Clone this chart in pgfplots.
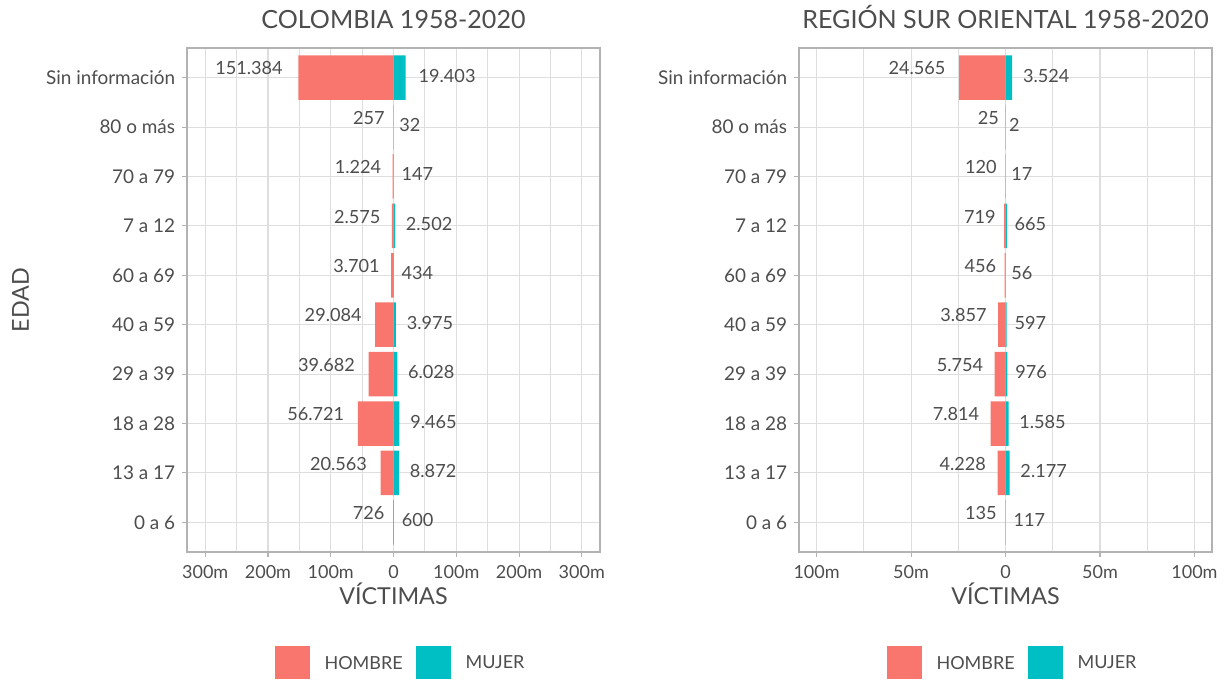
\documentclass[border=0pt]{standalone}
\usepackage{pgfplots}
\pgfplotsset{compat=1.18}
\usepackage{pgfplotstable}
\usepackage{fontspec}
\setmainfont{Lato}
\definecolor{hombre}{HTML}{F8766D}
\definecolor{mujer}{HTML}{00BFC4}
\definecolor{txt}{HTML}{4D4D4D}
\definecolor{gridc}{HTML}{DEDEDE}
\definecolor{framec}{HTML}{B3B3B3}

% pos: 0 = "0 a 6" ... 9 = "Sin informacion"
\pgfplotstableread{
pos h m
0 726 600
1 20563 8872
2 56721 9465
3 39682 6028
4 29084 3975
5 3701 434
6 2575 2502
7 1224 147
8 257 32
9 151384 19403
}\colombia

\pgfplotstableread{
pos h m
0 135 117
1 4228 2177
2 7814 1585
3 5754 976
4 3857 597
5 456 56
6 719 665
7 120 17
8 25 2
9 24565 3524
}\region

\newcommand{\ticksize}{\fontsize{13.5}{15}\selectfont}
\newcommand{\yticksize}{\fontsize{14.2}{16}\selectfont}
\newcommand{\labsize}{\fontsize{13.6}{15}\selectfont}
\newcommand{\titsize}{\fontsize{18.8}{21}\selectfont}
\newcommand{\axtsize}{\fontsize{17.5}{20}\selectfont}

\pgfplotsset{
  piramide/.style={
    scale only axis, width=309.75pt, height=378pt,
    xbar, bar width=0.9, bar shift=0pt,
    scaled x ticks=false,
    ymin=-0.6, ymax=9.6, ytick={0,...,9},
    yticklabels={0 a 6,13 a 17,18 a 28,29 a 39,40 a 59,60 a 69,7 a 12,70 a 79,80 o más,Sin información},
    xmajorgrids, xminorgrids, ymajorgrids,
    major grid style={gridc, line width=0.8pt},
    minor grid style={gridc, line width=0.6pt},
    axis line style={framec, line width=1.1pt},
    tick style={framec, line width=0.8pt},
    tick align=outside, major tick length=3.4pt, minor tick length=0pt,
    tick pos=left,
    xticklabel style={font=\ticksize, text=txt, yshift=-3pt},
    yticklabel style={font=\yticksize, text=txt, xshift=-2pt},
    title style={at={(0.5,1)}, anchor=base, yshift=8.25pt, font=\titsize, text=txt},
    xlabel style={at={(axis description cs:0.5,0)}, anchor=base, yshift=-39pt, font=\axtsize, text=txt},
    legend style={at={(0.5,-0.1865)}, anchor=north, xshift=4.5pt, draw=none, fill=none,
      inner sep=0pt, outer sep=0pt, font=\ticksize, text=txt,
      nodes={inner sep=0pt},
      /tikz/every odd column/.append style={column sep=11.25pt},
      /tikz/every even column/.append style={column sep=9.75pt}},
    legend columns=2,
  },
  hlab/.style={
    nodes near coords={\makebox[1.2\width][l]{\pgfmathprintnumber[fixed,precision=0,1000 sep={.},assume math mode=true]{\pgfplotspointmeta}}},
    every node near coord/.append style={anchor=east, inner sep=0pt, xshift=-1.5pt, yshift=7pt, font=\labsize, text=txt},
  },
  mlab/.style={
    nodes near coords={\makebox[1.2\width][r]{\pgfmathprintnumber[fixed,precision=0,1000 sep={.},assume math mode=true]{\pgfplotspointmeta}}},
    every node near coord/.append style={anchor=west, inner sep=0pt, xshift=1pt, yshift=1.5pt, font=\labsize, text=txt},
  },
}

\begin{document}
\begin{tikzpicture}
\path[use as bounding box] (0pt,0pt) rectangle (921pt,509.25pt);

\begin{axis}[piramide, at={(140.25pt,95.25pt)}, anchor=south west,
  xmin=-329000, xmax=329000,
  xtick={-300000,-200000,-100000,0,100000,200000,300000},
  xticklabels={300m,200m,100m,0,100m,200m,300m},
  minor xtick={-250000,-150000,-50000,50000,150000,250000},
  title={COLOMBIA 1958-2020}, xlabel={VÍCTIMAS}, ylabel={EDAD},
  ylabel style={at={(axis description cs:-0.3826,0.5)}, anchor=base, font=\axtsize, text=txt},
]
\addplot[draw=none, fill=hombre, hlab, point meta={\thisrow{h}},
  legend image code/.code={\fill[hombre] (0pt,-11.6pt) rectangle (26.25pt,13.15pt);}]
  table[x expr=-\thisrow{h}, y=pos] {\colombia};
\addplot[draw=none, fill=mujer, mlab, point meta={\thisrow{m}},
  legend image code/.code={\fill[mujer] (0pt,-11.6pt) rectangle (26.25pt,13.15pt);}]
  table[x=m, y=pos] {\colombia};
\legend{HOMBRE,MUJER}
\end{axis}

\begin{axis}[piramide, at={(599.25pt,95.25pt)}, anchor=south west,
  xmin=-109300, xmax=109300,
  xtick={-100000,-50000,0,50000,100000},
  xticklabels={100m,50m,0,50m,100m},
  minor xtick={-75000,-25000,25000,75000},
  title={REGIÓN SUR ORIENTAL 1958-2020}, xlabel={VÍCTIMAS},
]
\addplot[draw=none, fill=hombre, hlab, point meta={\thisrow{h}},
  legend image code/.code={\fill[hombre] (0pt,-11.6pt) rectangle (26.25pt,13.15pt);}]
  table[x expr=-\thisrow{h}, y=pos] {\region};
\addplot[draw=none, fill=mujer, mlab, point meta={\thisrow{m}},
  legend image code/.code={\fill[mujer] (0pt,-11.6pt) rectangle (26.25pt,13.15pt);}]
  table[x=m, y=pos] {\region};
\legend{HOMBRE,MUJER}
\end{axis}
\end{tikzpicture}
\end{document}
